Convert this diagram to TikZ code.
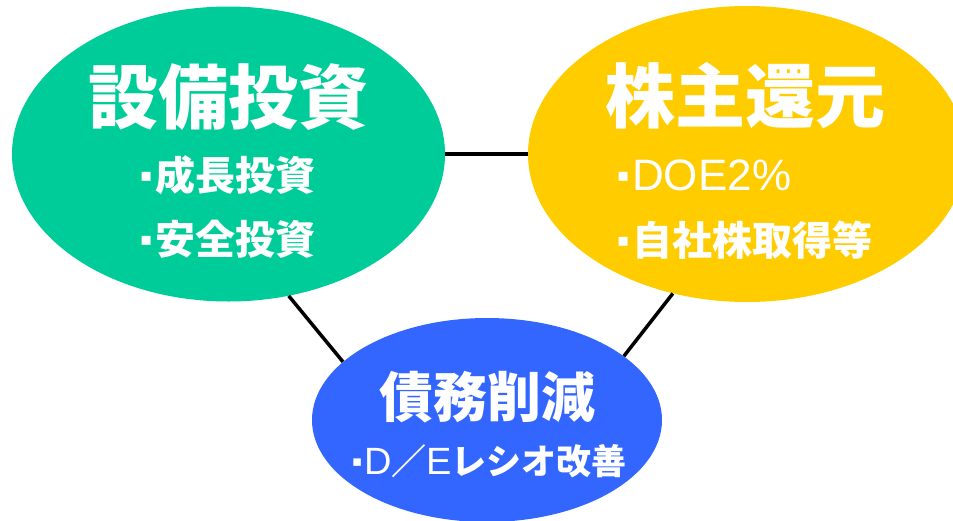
\documentclass[tikz,border=0pt]{standalone}
\usepackage{fontspec}
\newfontfamily\jp{Noto Sans CJK JP}
\newfontfamily\lat{Liberation Sans}
\newfontfamily\djv{DejaVu Sans}
\usetikzlibrary{shapes.geometric}
\definecolor{cgreen}{RGB}{0,204,153}
\definecolor{cyellow}{RGB}{255,204,0}
\definecolor{cblue}{RGB}{51,102,255}
\newcommand\bulx[3]{\makebox[#1][c]{\raisebox{#3}{\fontsize{#2}{#2}\selectfont\djv ▪}}}
\tikzset{
  blob/.style={ellipse, inner sep=0pt, draw=none},
  link/.style={line width=3.5pt, black},
  title/.style={text=white, inner sep=0pt, font=\jp\bfseries\fontsize{70}{70}\selectfont},
  sub/.style={text=white, inner sep=0pt, anchor=west, font=\jp\bfseries\fontsize{40}{40}\selectfont},
}
\begin{document}
\begin{tikzpicture}[x=1pt,y=-1pt]
\useasboundingbox (0,0) rectangle (953,520);
\clip (0,0) rectangle (953,520);
\node[blob, fill=cgreen, minimum width=433pt, minimum height=295pt] (g) at (228.5,154) {};
\node[blob, fill=cyellow, minimum width=438pt, minimum height=296pt] (y) at (747,154) {};
\node[blob, fill=cblue, minimum width=350pt, minimum height=204pt] (b) at (487,420) {};
\draw[link] (g.east) -- (y.west);
\draw[link] (g.-67.7) -- (b.158.9);
\draw[link] (y.-118.4) -- (b.25.4);
\node[title] (gt) at (228.5,97) {設備投資};
\node[sub] (g1) at (137,175) {\bulx{18pt}{18}{9pt}成長投資};
\node[sub] (g2) at (137,239) {\bulx{18pt}{18}{9pt}安全投資};
\node[title] (yt) at (745,96) {株主還元};
\node[sub] (y1) at (614,175) {\bulx{18pt}{18}{9pt}{\lat\mdseries\fontsize{44}{44}\selectfont DOE2\%}};
\node[sub] (y2) at (614,240) {\bulx{18pt}{18}{9pt}自社株取得等};
\node[title, font=\jp\bfseries\fontsize{54}{54}\selectfont] (bt) at (487,397) {債務削減};
\node[sub, font=\jp\bfseries\fontsize{35}{35}\selectfont] (b1) at (350,461) {\bulx{14pt}{15}{7.5pt}{\lat\mdseries\fontsize{38}{38}\selectfont D}／{\lat\mdseries\fontsize{38}{38}\selectfont E}レシオ改善};
\end{tikzpicture}
\end{document}
